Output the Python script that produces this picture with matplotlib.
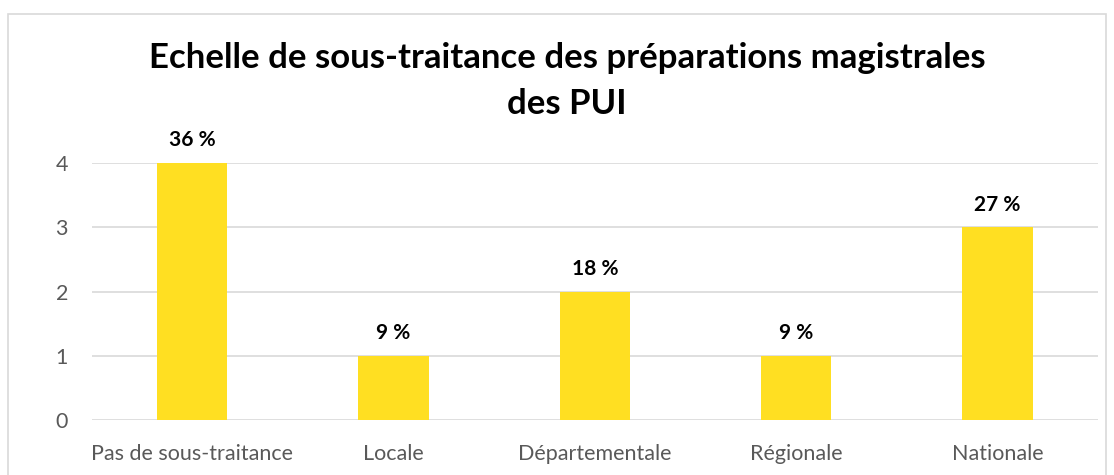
import numpy as np
import matplotlib.pyplot as plt
from matplotlib.patches import Rectangle

# data
categories = ['Pas de sous-traitance', 'Locale', 'Départementale', 'Régionale', 'Nationale']
counts = [4, 1, 2, 1, 3]
pct_labels = ['36 %', '9 %', '18 %', '9 %', '27 %']

plt.rcParams['font.family'] = ['Lato', 'DejaVu Sans']

fig = plt.figure(figsize=(11.14, 4.75), dpi=100)
ax = fig.add_axes([91.5/1114, 1-420/475, (1098-91.5)/1114, (420-163)/475])

x = np.arange(len(categories))
ax.bar(x, counts, width=0.35, color='#FFDF22', zorder=3)
for xi, c, lab in zip(x, counts, pct_labels):
    ax.annotate(lab, (xi, c), xytext=(0, 9), textcoords='offset points',
                ha='center', va='bottom', fontsize=15, fontweight='bold', color='black')

ax.set_xlim(-0.5, len(categories)-0.5)
ax.set_ylim(0, 4)
ax.set_yticks(range(0, 5))
ax.set_xticks(x)
ax.set_xticklabels(categories)
ax.tick_params(axis='both', length=0, labelsize=15.5, colors='#595959')
ax.tick_params(axis='x', pad=17)
ax.tick_params(axis='y', pad=17)
ax.yaxis.grid(True, color='#D9D9D9', linewidth=1.2, zorder=0)
for s in ax.spines.values():
    s.set_visible(False)

fig.text(567/1114, 1-58/475, 'Echelle de sous-traitance des préparations magistrales',
         ha='center', va='center', fontsize=25, fontweight='bold')
fig.text(567/1114, 1-104/475, 'des PUI',
         ha='center', va='center', fontsize=25, fontweight='bold')

# chart frame
fig.patches.append(Rectangle((8/1114, -0.05), 1098/1114, 1-14/475+0.05,
                             transform=fig.transFigure, fill=False,
                             edgecolor='#D9D9D9', linewidth=1.2))

plt.savefig('out.png', dpi=100)
